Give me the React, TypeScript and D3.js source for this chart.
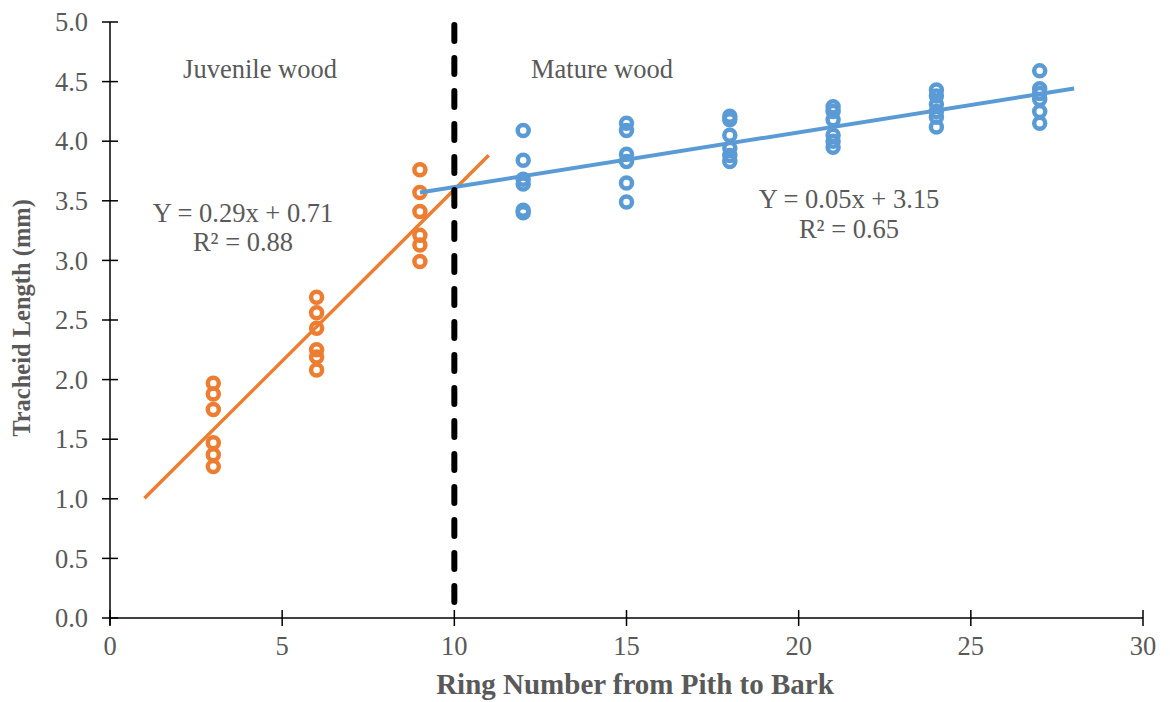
import React from "react";
import * as d3 from "d3";

// Tracheid length by ring number: juvenile (rings 3-9) and mature (rings 12-27) wood
const juvenileRings = [3, 3, 3, 3, 3, 3, 6, 6, 6, 6, 6, 6, 9, 9, 9, 9, 9, 9];
const juvenileLength = [1.97, 1.88, 1.75, 1.47, 1.37, 1.27, 2.69, 2.56, 2.43, 2.25, 2.19, 2.08, 3.76, 3.57, 3.41, 3.21, 3.13, 2.99];

const matureRings = [12, 12, 12, 12, 12, 12, 15, 15, 15, 15, 15, 15, 18, 18, 18, 18, 18, 18, 21, 21, 21, 21, 21, 21, 24, 24, 24, 24, 24, 24, 27, 27, 27, 27, 27, 27];
const matureLength = [4.09, 3.84, 3.68, 3.64, 3.42, 3.40, 4.15, 4.09, 3.89, 3.83, 3.65, 3.49, 4.21, 4.18, 4.05, 3.94, 3.88, 3.83, 4.29, 4.25, 4.18, 4.05, 4.00, 3.95, 4.43, 4.38, 4.31, 4.25, 4.20, 4.12, 4.59, 4.44, 4.40, 4.35, 4.25, 4.15];

const juvenileTrendRange = [1, 11];
const matureTrendRange = [9, 28];
const boundaryRing = 10;

const xTicks = [0, 5, 10, 15, 20, 25, 30];
const yTicks = [0, 0.5, 1, 1.5, 2, 2.5, 3, 3.5, 4, 4.5, 5];

const juvenileLabels = ["Juvenile wood", "Y = 0.29x + 0.71", "R² = 0.88"];
const matureLabels = ["Mature wood", "Y = 0.05x + 3.15", "R² = 0.65"];

const ORANGE = "#ED7D31";
const BLUE = "#5B9BD5";
const GRAY = "#595959";
const FONT = "'Liberation Serif', 'Times New Roman', serif";
const FS = 26.5;

// least-squares line through the points
function fit(xs: number[], ys: number[]) {
  const mx = d3.mean(xs) as number;
  const my = d3.mean(ys) as number;
  let num = 0;
  let den = 0;
  xs.forEach((x, i) => {
    num += (x - mx) * (ys[i] - my);
    den += (x - mx) * (x - mx);
  });
  const slope = num / den;
  return { slope, intercept: my - slope * mx };
}

export default function App() {
  const width = 1170;
  const height = 702;
  const x = d3.scaleLinear().domain([0, 30]).range([110, 1143]);
  const y = d3.scaleLinear().domain([0, 5]).range([618, 22]);

  const jFit = fit(juvenileRings, juvenileLength);
  const mFit = fit(matureRings, matureLength);
  const jLine = d3.line<number>().x((d) => x(d)).y((d) => y(jFit.slope * d + jFit.intercept));
  const mLine = d3.line<number>().x((d) => x(d)).y((d) => y(mFit.slope * d + mFit.intercept));

  return (
    <svg width={width} height={height} style={{ position: "absolute", left: 0, top: 0, background: "#fff" }} fontFamily={FONT}>
      {/* axes */}
      <line x1={x(0)} x2={x(30)} y1={y(0)} y2={y(0)} stroke="#000" strokeWidth={1.5} />
      <line x1={x(0)} x2={x(0)} y1={y(5)} y2={y(0) + 7} stroke="#000" strokeWidth={1.5} />
      {yTicks.map((t) => (
        <g key={"y" + t}>
          <line x1={x(0) - 8} x2={x(0) + 8} y1={y(t)} y2={y(t)} stroke="#000" strokeWidth={1.5} />
          <text x={88} y={y(t)} dy="0.35em" textAnchor="end" fontSize={FS} fill={GRAY}>
            {t.toFixed(1)}
          </text>
        </g>
      ))}
      {xTicks.map((t) => (
        <g key={"x" + t}>
          <line x1={x(t)} x2={x(t)} y1={y(0) - 8} y2={y(0) + 8} stroke="#000" strokeWidth={1.5} />
          <text x={x(t)} y={655} textAnchor="middle" fontSize={FS} fill={GRAY}>
            {t}
          </text>
        </g>
      ))}

      <text x={635} y={694} textAnchor="middle" fontSize={29} fontWeight="bold" fill={GRAY}>
        Ring Number from Pith to Bark
      </text>
      <text transform={`translate(30, ${318}) rotate(-90)`} textAnchor="middle" fontSize={24.5} fontWeight="bold" fill={GRAY}>
        Tracheid Length (mm)
      </text>

      {/* data points */}
      {juvenileRings.map((r, i) => (
        <circle key={"j" + i} cx={x(r)} cy={y(juvenileLength[i])} r={5.5} fill="none" stroke={ORANGE} strokeWidth={4.5} />
      ))}
      {matureRings.map((r, i) => (
        <circle key={"m" + i} cx={x(r)} cy={y(matureLength[i])} r={5.5} fill="none" stroke={BLUE} strokeWidth={4.5} />
      ))}

      {/* trend lines */}
      <path d={jLine(juvenileTrendRange) || ""} stroke={ORANGE} strokeWidth={3.5} fill="none" />
      <path d={mLine(matureTrendRange) || ""} stroke={BLUE} strokeWidth={4} fill="none" />

      {/* juvenile / mature boundary */}
      <line
        x1={x(boundaryRing)}
        x2={x(boundaryRing)}
        y1={y(5) + 3}
        y2={y(0) - 3}
        stroke="#000"
        strokeWidth={6}
        strokeLinecap="round"
        strokeDasharray="16 17"
      />

      <text x={260} y={78} textAnchor="middle" fontSize={FS} fill={GRAY}>{juvenileLabels[0]}</text>
      <text x={243} y={222} textAnchor="middle" fontSize={FS} fill={GRAY}>{juvenileLabels[1]}</text>
      <text x={243} y={251} textAnchor="middle" fontSize={FS} fill={GRAY}>{juvenileLabels[2]}</text>
      <text x={602} y={78} textAnchor="middle" fontSize={FS} fill={GRAY}>{matureLabels[0]}</text>
      <text x={849} y={208} textAnchor="middle" fontSize={FS} fill={GRAY}>{matureLabels[1]}</text>
      <text x={849} y={238} textAnchor="middle" fontSize={FS} fill={GRAY}>{matureLabels[2]}</text>
    </svg>
  );
}
